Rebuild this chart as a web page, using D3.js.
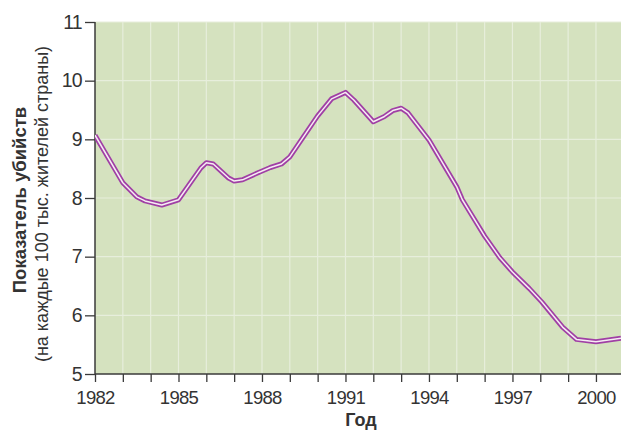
<!DOCTYPE html>
<html>
<head>
<meta charset="utf-8">
<script src="https://cdn.jsdelivr.net/npm/d3@7"></script>
<style>
  html, body { margin: 0; padding: 0; background: #fff; }
  svg { display: block; }
  text { font-family: "Liberation Sans", Arial, sans-serif; fill: #333; }
</style>
</head>
<body>
<svg id="chart" width="621" height="431"></svg>
<script>
// Homicide rate per 100,000 residents, by year
const years = [1982, 1983, 1983.5, 1983.8, 1984.4, 1985, 1985.8, 1986, 1986.25, 1986.8,
               1987, 1987.3, 1987.9, 1988.3, 1988.7, 1989, 1990, 1990.5, 1991, 1991.3,
               1992, 1992.4, 1992.7, 1993, 1993.25, 1994, 1995, 1995.2, 1996, 1996.55,
               1997, 1997.6, 1998.05, 1998.8, 1999.3, 2000, 2000.9];
const rates = [9.07, 8.26, 8.02, 7.95, 7.88, 7.97, 8.51, 8.60, 8.58, 8.34,
               8.29, 8.31, 8.44, 8.52, 8.58, 8.70, 9.40, 9.69, 9.80, 9.67,
               9.30, 9.39, 9.49, 9.53, 9.45, 8.99, 8.19, 7.97, 7.35, 6.98,
               6.74, 6.46, 6.23, 5.80, 5.59, 5.55, 5.61];

const xTickYears = d3.range(1982, 2001);          // a tick every year
const xLabelYears = [1982, 1985, 1988, 1991, 1994, 1997, 2000];
const yTicks = [5, 6, 7, 8, 9, 10, 11];

const yTitle = "Показатель убийств";
const ySubTitle = "(на каждые 100 тыс. жителей страны)";
const xTitle = "Год";

const svg = d3.select("#chart");
const plotLeft = 95, plotRight = 621, plotTop = 22, plotBottom = 374;

const x = d3.scaleLinear().domain([1982, 2000.9]).range([plotLeft, plotRight]);
const y = d3.scaleLinear().domain([5, 11]).range([plotBottom, plotTop]);

// plot background
svg.append("rect")
  .attr("x", plotLeft).attr("y", plotTop)
  .attr("width", plotRight - plotLeft).attr("height", plotBottom - plotTop)
  .attr("fill", "#d5e2bf");

// grid
const grid = svg.append("g").attr("stroke", "#e7eedc").attr("stroke-width", 1.2);
grid.selectAll("line.v").data(xTickYears.slice(1)).join("line")
  .attr("x1", d => x(d)).attr("x2", d => x(d))
  .attr("y1", plotTop).attr("y2", plotBottom);
grid.selectAll("line.h").data(yTicks.slice(1)).join("line")
  .attr("x1", plotLeft).attr("x2", plotRight)
  .attr("y1", d => y(d)).attr("y2", d => y(d));

// axes
const xAxis = d3.axisBottom(x)
  .tickValues(xTickYears)
  .tickSize(8)
  .tickPadding(9)
  .tickFormat(d => xLabelYears.includes(d) ? String(d) : "");
const gx = svg.append("g").attr("transform", `translate(0,${plotBottom})`).call(xAxis);
gx.select(".domain").attr("stroke", "#3a3a3a").attr("stroke-width", 1.5)
  .attr("d", `M${plotLeft},0H${plotRight}`);
gx.selectAll(".tick line").attr("stroke", "#3a3a3a").attr("stroke-width", 1.3);
gx.selectAll(".tick text").attr("font-size", 18.5).attr("fill", "#333")
  .attr("font-family", "Liberation Sans, Arial, sans-serif")
  .attr("letter-spacing", -0.7);

const yAxis = d3.axisLeft(y)
  .tickValues(yTicks)
  .tickSize(10)
  .tickPadding(3)
  .tickFormat(d3.format("d"));
const gy = svg.append("g").attr("transform", `translate(${plotLeft},0)`).call(yAxis);
gy.select(".domain").attr("stroke", "#3a3a3a").attr("stroke-width", 1.5)
  .attr("d", `M0,${plotTop}V${plotBottom}`);
gy.selectAll(".tick line").attr("stroke", "#3a3a3a").attr("stroke-width", 1.3);
gy.selectAll(".tick text").attr("font-size", 19.5).attr("fill", "#333")
  .attr("font-family", "Liberation Sans, Arial, sans-serif")
  .attr("letter-spacing", -0.7);

// data line: purple casing with a light core
const line = d3.line().x((d, i) => x(years[i])).y(d => y(d)).curve(d3.curveLinear);
svg.append("clipPath").attr("id", "plot-clip")
  .append("rect").attr("x", plotLeft).attr("y", plotTop - 5)
  .attr("width", plotRight - plotLeft).attr("height", plotBottom - plotTop + 10);
const lg = svg.append("g").attr("clip-path", "url(#plot-clip)");
lg.append("path").datum(rates).attr("d", line)
  .attr("fill", "none").attr("stroke", "#a03fa5").attr("stroke-width", 5)
  .attr("stroke-linejoin", "round");
lg.append("path").datum(rates).attr("d", line)
  .attr("fill", "none").attr("stroke", "#f6ecf4").attr("stroke-width", 1.5)
  .attr("stroke-linejoin", "round");

// titles
svg.append("text")
  .attr("transform", `translate(26,200) rotate(-90)`)
  .attr("text-anchor", "middle")
  .attr("font-size", 18.5).attr("font-weight", "bold").attr("fill", "#222")
  .text(yTitle);
svg.append("text")
  .attr("transform", `translate(48,204) rotate(-90)`)
  .attr("text-anchor", "middle")
  .attr("font-size", 18).attr("fill", "#333")
  .text(ySubTitle);
svg.append("text")
  .attr("x", 361).attr("y", 426)
  .attr("text-anchor", "middle")
  .attr("font-size", 18).attr("font-weight", "bold").attr("fill", "#222")
  .text(xTitle);
</script>
</body>
</html>
